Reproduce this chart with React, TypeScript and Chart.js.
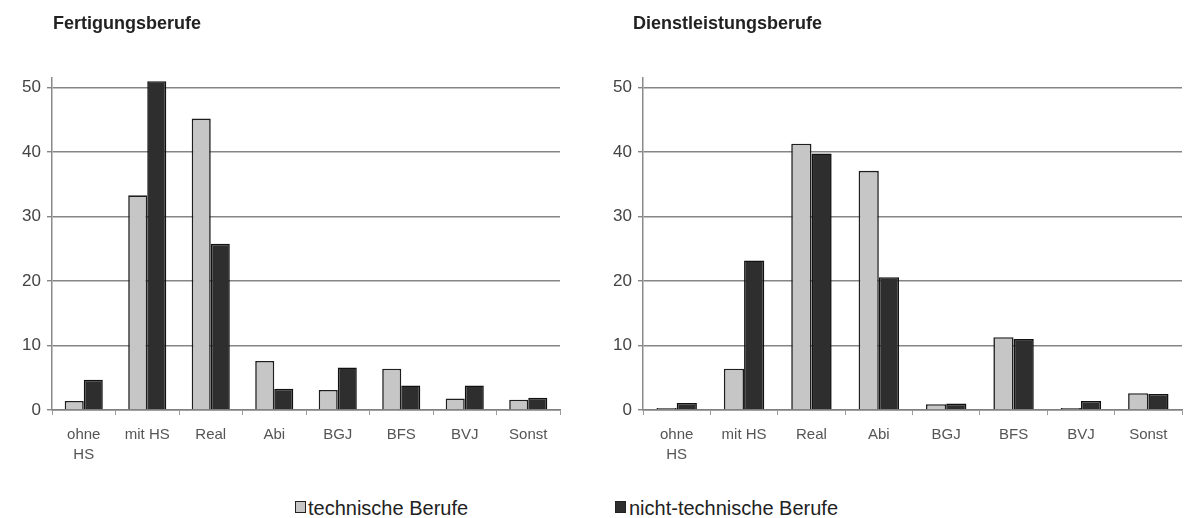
import React, { useEffect, useRef } from "react";
import { Chart, registerables } from "chart.js";

Chart.register(...registerables);

const categories: (string | string[])[] = [["ohne", "HS"], "mit HS", "Real", "Abi", "BGJ", "BFS", "BVJ", "Sonst"];
const seriesNames = ["technische Berufe", "nicht-technische Berufe"];

const fertigungTech = [1.4, 33.3, 45.2, 7.6, 3.1, 6.4, 1.8, 1.6];
const fertigungNonTech = [4.7, 51.0, 25.8, 3.3, 6.6, 3.8, 3.8, 1.9];

const dienstTech = [0.2, 6.4, 41.3, 37.1, 0.9, 11.3, 0.2, 2.6];
const dienstNonTech = [1.1, 23.2, 39.8, 20.6, 1.0, 11.0, 1.4, 2.5];

const yTicks = [0, 10, 20, 30, 40, 50];
const titles = ["Fertigungsberufe", "Dienstleistungsberufe"];

const TECH_FILL = "#c6c6c6";
const NONTECH_FILL = "#2e2e2e";
const FONT = "'Liberation Sans', Arial, sans-serif";

function BarPanel(props: {
  tech: number[];
  nonTech: number[];
  yAxisWidth: number;
  padRight: number;
  width: number;
}) {
  const ref = useRef<HTMLCanvasElement | null>(null);
  useEffect(() => {
    if (!ref.current) return;
    const chart = new Chart(ref.current, {
      type: "bar",
      data: {
        labels: categories as any,
        datasets: [
          {
            label: seriesNames[0],
            data: props.tech,
            backgroundColor: TECH_FILL,
            borderColor: "#1e1e1e",
            borderWidth: 1.6,
            categoryPercentage: 0.6,
            barPercentage: 1.0,
            minBarLength: 2,
          },
          {
            label: seriesNames[1],
            data: props.nonTech,
            backgroundColor: NONTECH_FILL,
            borderColor: "#111",
            borderWidth: 1.6,
            categoryPercentage: 0.6,
            barPercentage: 1.0,
            minBarLength: 2,
          },
        ],
      },
      options: {
        animation: false,
        responsive: false,
        maintainAspectRatio: false,
        layout: { padding: { top: 78, right: props.padRight, left: 0, bottom: 0 } },
        plugins: { legend: { display: false }, tooltip: { enabled: false }, title: { display: false } },
        scales: {
          x: {
            grid: {
              display: true,
              drawOnChartArea: false,
              drawTicks: true,
              tickLength: 5,
              color: "#999",
              offset: true,
            },
            border: { display: true, color: "#808080", width: 1.5 },
            ticks: {
              color: "#555",
              font: { family: FONT, size: 15, lineHeight: 1.33 },
              padding: 10,
              maxRotation: 0,
              autoSkip: false,
            },
            afterFit: (scale: any) => {
              scale.height = 70;
            },
          },
          y: {
            min: 0,
            max: 51.5,
            grid: {
              color: "#858585",
              lineWidth: 1.4,
              tickLength: 5,
              drawTicks: true,
            },
            border: { display: true, color: "#8a8a8a", width: 1.5 },
            ticks: {
              stepSize: 10,
              includeBounds: false,
              color: "#444",
              font: { family: FONT, size: 17 },
              padding: 6,
              callback: (v: any) => (yTicks.includes(Number(v)) ? String(v) : ""),
            },
            afterFit: (scale: any) => {
              scale.width = props.yAxisWidth;
            },
          },
        },
      } as any,
    });
    return () => chart.destroy();
  }, []);
  return <canvas ref={ref} width={props.width} height={480} style={{ display: "block" }} />;
}

export default function App() {
  const titleStyle: React.CSSProperties = {
    position: "absolute",
    top: 12,
    fontFamily: FONT,
    fontWeight: "bold",
    fontSize: 18,
    lineHeight: "22px",
    color: "#222",
    whiteSpace: "nowrap",
  };
  const legendText: React.CSSProperties = {
    position: "absolute",
    top: 496,
    fontFamily: FONT,
    fontSize: 20,
    lineHeight: "24px",
    color: "#222",
    whiteSpace: "nowrap",
  };
  const boxBase: React.CSSProperties = {
    position: "absolute",
    top: 501,
    width: 11,
    height: 12,
    boxSizing: "border-box",
    border: "1.5px solid #222",
  };
  return (
    <div
      style={{
        position: "absolute",
        left: 0,
        top: 0,
        width: 1187,
        height: 518,
        background: "#fff",
        overflow: "hidden",
      }}
    >
      <div style={{ position: "absolute", left: 0, top: 0 }}>
        <BarPanel tech={fertigungTech} nonTech={fertigungNonTech} yAxisWidth={52} padRight={20} width={580} />
      </div>
      <div style={{ position: "absolute", left: 590, top: 0 }}>
        <BarPanel tech={dienstTech} nonTech={dienstNonTech} yAxisWidth={53} padRight={5} width={597} />
      </div>
      <div style={{ ...titleStyle, left: 53 }}>{titles[0]}</div>
      <div style={{ ...titleStyle, left: 633 }}>{titles[1]}</div>
      <div style={{ ...boxBase, left: 295, background: TECH_FILL }} />
      <div style={{ ...legendText, left: 308 }}>{seriesNames[0]}</div>
      <div style={{ ...boxBase, left: 615, background: NONTECH_FILL }} />
      <div style={{ ...legendText, left: 629 }}>{seriesNames[1]}</div>
    </div>
  );
}
